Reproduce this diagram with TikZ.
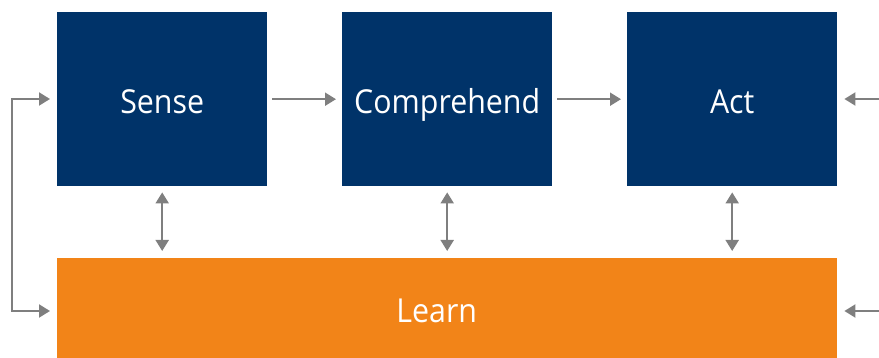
\documentclass[tikz,border=0pt]{standalone}
\usepackage{fontspec}
\setmainfont{Open Sans}[FakeStretch=0.92]
\usetikzlibrary{arrows.meta}
\definecolor{navy}{HTML}{003369}
\definecolor{orng}{HTML}{F28418}
\definecolor{arrgray}{HTML}{7F7F7F}
\begin{document}
\begin{tikzpicture}[x=1pt,y=-1pt,
  navybox/.style={fill=navy,text=white,inner sep=0pt,anchor=north west,
    minimum width=210pt,minimum height=174pt,text height=28pt,text depth=0pt,
    font=\fontsize{33}{38}\selectfont},
  learnbox/.style={fill=orng,text=white,inner sep=0pt,anchor=north west,
    minimum width=780pt,minimum height=100pt,text height=28pt,text depth=0pt,
    font=\fontsize{33}{38}\selectfont},
  conn/.style={draw=arrgray,line width=2pt,-{Triangle[length=11pt,width=13pt]}},
  dconn/.style={draw=arrgray,line width=2pt,{Triangle[length=11pt,width=13pt]}-{Triangle[length=11pt,width=13pt]}}]
\useasboundingbox (0,0) rectangle (879,358);
\node[navybox] (sense) at (57,12) {Sense};
\node[navybox] (comp) at (342,12) {Comprehend};
\node[navybox] (act) at (627,12) {Act};
\node[learnbox] (learn) at (57,258) {Learn\hspace*{21pt}};
\coordinate (lx) at (12,99);
\coordinate (lxb) at (12,311);
\coordinate (rt) at (879,99);
\coordinate (rb) at (879,311);
\draw[conn,shorten <=5pt,shorten >=6pt] (sense) -- (comp);
\draw[conn,shorten <=5pt,shorten >=6pt] (comp) -- (act);
\draw[conn,shorten >=7pt] (rt) -- (act.east |- rt);
\draw[conn,shorten >=7pt] (rb) -- (learn.east |- rb);
\draw[conn,shorten >=7pt] (lxb) -- (lx) -- (sense.west |- lx);
\draw[conn,shorten >=7pt] (lx) -- (lxb) -- (learn.west |- lxb);
\draw[dconn,shorten <=6pt,shorten >=7pt] (sense.south) -- (sense.south |- learn.north);
\draw[dconn,shorten <=6pt,shorten >=7pt] (comp.south) -- (comp.south |- learn.north);
\draw[dconn,shorten <=6pt,shorten >=7pt] (act.south) -- (act.south |- learn.north);
\end{tikzpicture}
\end{document}
